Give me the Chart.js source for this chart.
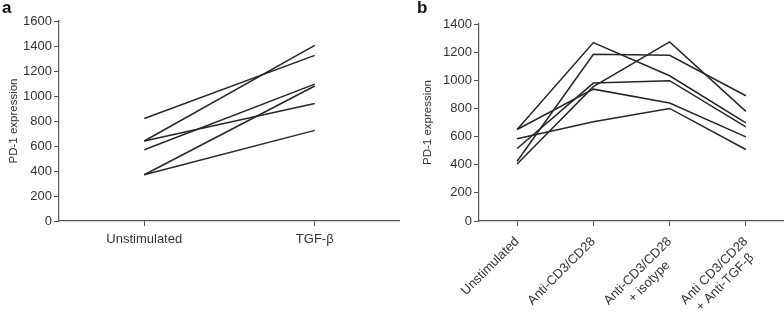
<!DOCTYPE html>
<html>
<head>
<meta charset="utf-8">
<script src="https://cdn.jsdelivr.net/npm/chart.js@4.4.0/dist/chart.umd.min.js"></script>
<style>
  html, body { margin: 0; padding: 0; background: #fff; }
  #wrap { position: relative; width: 784px; height: 314px; overflow: hidden; }
  .panel { position: absolute; top: 0; height: 314px; }
  #pa { left: 0; width: 400px; }
  #pb { left: 400px; width: 384px; }
  .tag { position: absolute; font: bold 17px "Liberation Sans", Arial, sans-serif; color: #111; }
</style>
</head>
<body>
<div id="wrap">
  <div class="panel" id="pa"><canvas id="chartA"></canvas></div>
  <div class="panel" id="pb"><canvas id="chartB"></canvas></div>
  <div class="tag" style="left:2px;top:-2px;">a</div>
  <div class="tag" style="left:417px;top:-2px;">b</div>
</div>
<script>
// painel a: cada doador tem um valor sem estímulo e um com TGF-β
const groupsA = ['Unstimulated', 'TGF-β'];
const unstimA = [820, 640, 640, 570, 370, 370];
const tgfA = [1325, 1405, 940, 1095, 1080, 725];

// painel b: quatro condições por doador
const groupsB = [
    ['Unstimulated'],
    ['Anti-CD3/CD28'],
    ['Anti-CD3/CD28', '+ isotype     '],
    ['Anti CD3/CD28', '+ Anti-TGF-β  ']
];
const unstimB = [650, 650, 585, 425, 405, 515];
const cd3B = [1268, 937, 705, 1185, 955, 980];
const isotypeB = [1032, 838, 800, 1178, 1273, 997];
const antiTgfB = [697, 598, 508, 890, 779, 669];

const fontFamily = '"Liberation Sans", Arial, sans-serif';
const textColor = '#333';
const axisColor = '#555';

function lineDataset(values) {
    return {
        data: values,
        borderColor: '#262626',
        borderWidth: 1.5,
        pointRadius: 0,
        fill: false,
        tension: 0
    };
}

function baseOptions(yMax, yWidth, titlePad, topPad, xPad) {
    return {
        responsive: false,
        animation: false,
        layout: { padding: { top: topPad, left: 0, right: 0, bottom: 0 } },
        plugins: { legend: { display: false }, tooltip: { enabled: false } },
        scales: {
            x: {
                offset: true,
                grid: { display: true, drawOnChartArea: false, color: axisColor, tickLength: 5, lineWidth: 1 },
                border: { color: axisColor, width: 1.2 },
                ticks: { color: textColor, font: { family: fontFamily, size: 13 }, padding: xPad },
                afterFit: (scale) => { scale.height = 93; }
            },
            y: {
                min: 0,
                max: yMax,
                grid: { display: true, drawOnChartArea: false, color: axisColor, tickLength: 5, lineWidth: 1 },
                border: { color: axisColor, width: 1.2 },
                ticks: {
                    stepSize: 200,
                    color: textColor,
                    font: { family: fontFamily, size: 13 },
                    padding: 2,
                    callback: (v) => String(v)
                },
                title: {
                    display: true,
                    text: 'PD-1 expression',
                    color: textColor,
                    font: { family: fontFamily, size: 11.5 },
                    padding: { top: titlePad, bottom: 0 }
                },
                afterFit: (scale) => { scale.width = yWidth; }
            }
        }
    };
}

const canvasA = document.getElementById('chartA');
canvasA.width = 400; canvasA.height = 314;
new Chart(canvasA, {
    type: 'line',
    data: {
        labels: groupsA,
        datasets: unstimA.map((v, i) => lineDataset([v, tgfA[i]]))
    },
    options: baseOptions(1600, 59, 7, 21, 6)
});

const canvasB = document.getElementById('chartB');
canvasB.width = 384; canvasB.height = 314;
const optsB = baseOptions(1400, 79, 21, 24, 8);
optsB.scales.x.ticks.minRotation = 45;
optsB.scales.x.ticks.maxRotation = 45;
new Chart(canvasB, {
    type: 'line',
    data: {
        labels: groupsB,
        datasets: unstimB.map((v, i) => lineDataset([v, cd3B[i], isotypeB[i], antiTgfB[i]]))
    },
    options: optsB
});
</script>
</body>
</html>
